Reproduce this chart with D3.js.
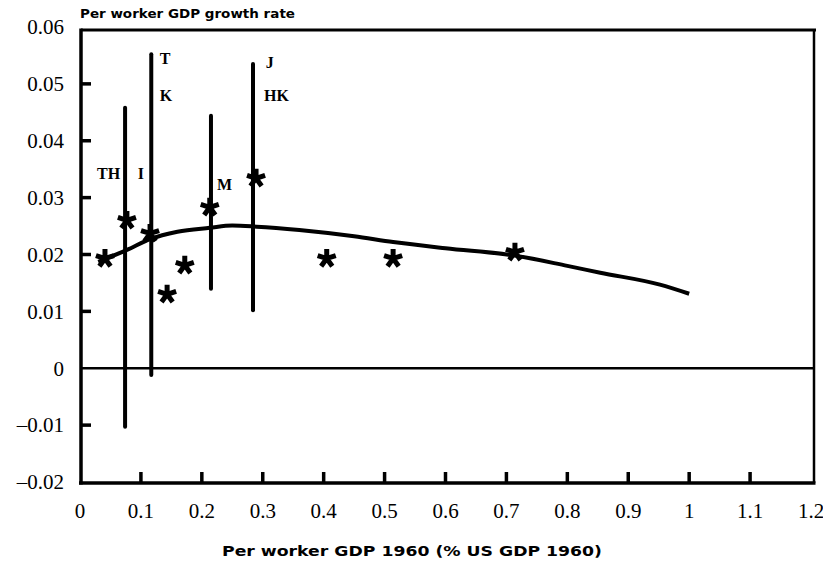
<!DOCTYPE html>
<html><head><meta charset="utf-8">
<script src="https://cdn.jsdelivr.net/npm/d3@7"></script>
<style>
body{margin:0;background:#fff;}
svg{display:block;}
</style></head>
<body>
<svg id="chart" width="823" height="562"></svg>
<script>
// ---- data ----
const xTicks = [0,0.1,0.2,0.3,0.4,0.5,0.6,0.7,0.8,0.9,1,1.1,1.2];
const yTicks = [-0.02,-0.01,0,0.01,0.02,0.03,0.04,0.05,0.06];
const starX = [0.041,0.077,0.115,0.143,0.172,0.213,0.289,0.405,0.514,0.714];
const starY = [0.0193,0.0260,0.0237,0.0130,0.0181,0.0283,0.0334,0.0193,0.0193,0.0204];
const rangeX = [0.074,0.117,0.215,0.284];
const rangeLow = [-0.0103,-0.0012,0.0140,0.0102];
const rangeHigh = [0.0458,0.0552,0.0444,0.0535];
const labelText = ["TH","I","T","K","M","J","HK"];
const labelX = [0.028,0.095,0.131,0.131,0.225,0.305,0.302];
const labelY = [0.0342,0.0342,0.0545,0.0480,0.0324,0.0537,0.0480];
const curveX = [0.03,0.077,0.115,0.16,0.213,0.25,0.29,0.36,0.45,0.514,0.6,0.714,0.8,0.854,0.952,1.0];
const curveY = [0.0187,0.0208,0.0227,0.0240,0.0247,0.0251,0.0249,0.0243,0.0232,0.0222,0.0211,0.0198,0.0180,0.0168,0.0147,0.0131];

const svg = d3.select("#chart");
const L = 81, R = 814, T = 30, B = 483;
const x = d3.scaleLinear().domain([0,1.2]).range([80,811]);
const y = d3.scaleLinear().domain([-0.02,0.06]).range([482,27]);
const serif = "'Liberation Serif','Times New Roman',serif";
const sans = "'DejaVu Sans',Arial,sans-serif";

// frame (top, right)
svg.append("line").attr("x1",L).attr("x2",R+2).attr("y1",T).attr("y2",T)
  .attr("stroke","#000").attr("stroke-width",3);
svg.append("line").attr("x1",R).attr("x2",R).attr("y1",T).attr("y2",B)
  .attr("stroke","#000").attr("stroke-width",2.5);

// left axis: ticks + labels
const yFmt = d => d===0 ? "0" : (d<0 ? "\u2013" + d3.format(".2f")(-d) : d3.format(".2f")(d));
svg.append("g").selectAll("rect").data(yTicks.filter(d=>d!==-0.02 && d!==0.06 && d!==0)).join("rect")
  .attr("x",L).attr("width",10).attr("y",d=>y(d)-1.75).attr("height",3.5)
  .attr("fill","#000");
svg.append("g").selectAll("text").data(yTicks).join("text")
  .attr("x",64).attr("y",d=>y(d)).attr("dy","0.35em").attr("text-anchor","end")
  .text(yFmt).style("font-family",serif).style("font-size","21px").attr("fill","#000");
svg.append("line").attr("x1",L).attr("x2",L).attr("y1",T-1.5).attr("y2",B+1.5)
  .attr("stroke","#000").attr("stroke-width",3.5);

// bottom axis: ticks + labels
svg.append("g").selectAll("rect").data(xTicks.filter(d=>d!==0 && d!==1.2)).join("rect")
  .attr("x",d=>x(d)-1.75).attr("width",3.5).attr("y",B-11).attr("height",11)
  .attr("fill","#000");
svg.append("g").selectAll("text").data(xTicks).join("text")
  .attr("x",d=>x(d)).attr("y",B+35).attr("text-anchor","middle")
  .text(d=>String(+d.toFixed(1))).style("font-family",serif).style("font-size","21px").attr("fill","#000");
svg.append("line").attr("x1",L-2).attr("x2",R+1.5).attr("y1",B).attr("y2",B)
  .attr("stroke","#000").attr("stroke-width",3.5);

// zero line
svg.append("line").attr("x1",L).attr("x2",R).attr("y1",y(0)).attr("y2",y(0))
  .attr("stroke","#000").attr("stroke-width",2.5);

// range bars
svg.append("g").selectAll("line").data(rangeX).join("line")
  .attr("x1",d=>x(d)).attr("x2",d=>x(d))
  .attr("y1",(d,i)=>y(rangeLow[i])).attr("y2",(d,i)=>y(rangeHigh[i]))
  .attr("stroke","#000").attr("stroke-width",4).attr("stroke-linecap","round");

// fitted curve
const pts = curveX.map((d,i)=>[d,curveY[i]]);
svg.append("path").datum(pts)
  .attr("d", d3.line().x(d=>x(d[0])).y(d=>y(d[1])).curve(d3.curveMonotoneX))
  .attr("fill","none").attr("stroke","#000").attr("stroke-width",4);

// stars (5-arm asterisks)
const arm = 9.5;
let starPath = "";
for (let k=0;k<5;k++){
  const a = -Math.PI/2 + k*2*Math.PI/5;
  starPath += `M0,0L${(arm*Math.cos(a)).toFixed(2)},${(arm*Math.sin(a)).toFixed(2)}`;
}
svg.append("g").selectAll("path").data(starX).join("path")
  .attr("transform",(d,i)=>`translate(${x(d)},${y(starY[i])})`)
  .attr("d",starPath).attr("fill","none").attr("stroke","#000")
  .attr("stroke-width",5).attr("stroke-linecap","butt");

// labels
svg.append("g").selectAll("text").data(labelText).join("text")
  .attr("x",(d,i)=>x(labelX[i])).attr("y",(d,i)=>y(labelY[i]))
  .attr("dy","0.35em").text(d=>d)
  .style("font-family",serif)
  .style("font-size","16px").style("font-weight","bold").attr("fill","#000");

// titles
svg.append("text").attr("x",80).attr("y",18).text("Per worker GDP growth rate")
  .attr("textLength",215).attr("lengthAdjust","spacingAndGlyphs")
  .style("font-family",sans).style("font-weight","bold")
  .style("font-size","13px").attr("fill","#000");
svg.append("text").attr("x",222).attr("y",556)
  .text("Per worker GDP 1960 (% US GDP 1960)")
  .attr("textLength",380).attr("lengthAdjust","spacingAndGlyphs")
  .style("font-family",sans).style("font-weight","bold")
  .style("font-size","14px").attr("fill","#000");
</script>
</body></html>
